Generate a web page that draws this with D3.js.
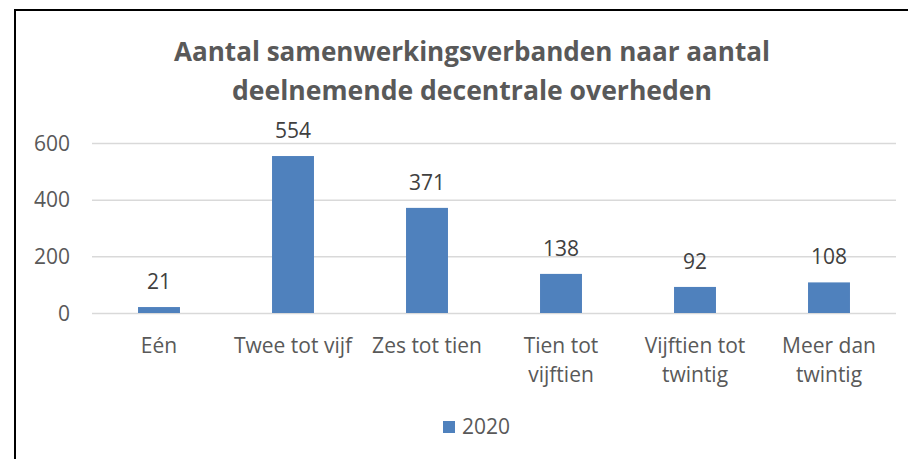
<!DOCTYPE html>
<html>
<head>
<meta charset="utf-8">
<script src="https://cdn.jsdelivr.net/npm/d3@7"></script>
<style>
  body { margin: 0; background: #fff; }
  text { font-family: "Open Sans", sans-serif; }
</style>
</head>
<body>
<svg width="908" height="459"></svg>
<script>
// data
var categories = ["Eén", "Twee tot vijf", "Zes tot tien", "Tien tot vijftien", "Vijftien tot twintig", "Meer dan twintig"]
var labelLines = [["Eén"], ["Twee tot vijf"], ["Zes tot tien"], ["Tien tot", "vijftien"], ["Vijftien tot", "twintig"], ["Meer dan", "twintig"]]
var values2020 = [21, 554, 371, 138, 92, 108]
var yTicks = [0, 200, 400, 600]
var seriesName = "2020"
var titleLines = ["Aantal samenwerkingsverbanden naar aantal", "deelnemende decentrale overheden"]

var svg = d3.select("svg")
var blue = "#4f81bd", grey = "#595959"

// chart frame (only top and left edges fall inside the picture)
svg.append("rect")
    .attr("x", 15).attr("y", 10)
    .attr("width", 1000).attr("height", 1000)
    .attr("fill", "none").attr("stroke", "#000").attr("stroke-width", 2)

var x = d3.scaleBand()
    .domain(categories)
    .range([92, 896])
    .paddingInner(0.687)
    .paddingOuter(0.3435)

var y = d3.scaleLinear()
    .domain([0, 600])
    .range([313, 143])

// title
svg.append("g").selectAll("text")
    .data(titleLines)
    .enter().append("text")
      .attr("x", 472)
      .attr("y", function(d, i) { return 61 + i * 39 })
      .attr("text-anchor", "middle")
      .attr("font-size", 26)
      .attr("font-weight", "bold")
      .attr("fill", grey)
      .attr("textLength", function(d, i) { return i == 0 ? 596 : 480 })
      .attr("lengthAdjust", "spacingAndGlyphs")
      .text(function(d) { return d })

// gridlines
svg.append("g")
    .attr("transform", "translate(92,0)")
    .call(d3.axisLeft(y).tickValues(yTicks).tickSize(-804).tickFormat(""))
    .call(function(g) { g.select(".domain").remove() })
    .call(function(g) { g.selectAll("line").attr("stroke", "#d9d9d9").attr("stroke-width", 1.5) })

// y tick labels
svg.append("g").selectAll("text")
    .data(yTicks)
    .enter().append("text")
      .attr("x", 70)
      .attr("y", function(d) { return y(d) + 7.5 })
      .attr("text-anchor", "end")
      .attr("font-size", 21)
      .attr("fill", grey)
      .text(function(d) { return d })

// bars
svg.append("g").selectAll("rect")
    .data(values2020)
    .enter().append("rect")
      .attr("x", function(d, i) { return x(categories[i]) })
      .attr("y", function(d) { return y(d) })
      .attr("width", x.bandwidth())
      .attr("height", function(d) { return y(0) - y(d) })
      .attr("fill", blue)

// value labels
svg.append("g").selectAll("text")
    .data(values2020)
    .enter().append("text")
      .attr("x", function(d, i) { return x(categories[i]) + x.bandwidth() / 2 })
      .attr("y", function(d) { return y(d) - 18 })
      .attr("text-anchor", "middle")
      .attr("font-size", 21)
      .attr("fill", "#404040")
      .text(function(d) { return d })

// category labels, wrapped like the original
var cat = svg.append("g").selectAll("text")
    .data(labelLines)
    .enter().append("text")
      .attr("text-anchor", "middle")
      .attr("font-size", 21)
      .attr("fill", grey)
      .attr("transform", function(d, i) { return "translate(" + (x(categories[i]) + x.bandwidth() / 2) + ",353)" })
cat.selectAll("tspan")
    .data(function(d) { return d })
    .enter().append("tspan")
      .attr("x", 0)
      .attr("y", function(d, i) { return i * 29 })
      .text(function(d) { return d })

// legend
svg.append("rect")
    .attr("x", 443).attr("y", 421)
    .attr("width", 12).attr("height", 12)
    .attr("fill", blue)
svg.append("text")
    .attr("x", 462).attr("y", 434)
    .attr("font-size", 21)
    .attr("fill", grey)
    .text(seriesName)
</script>
</body>
</html>
